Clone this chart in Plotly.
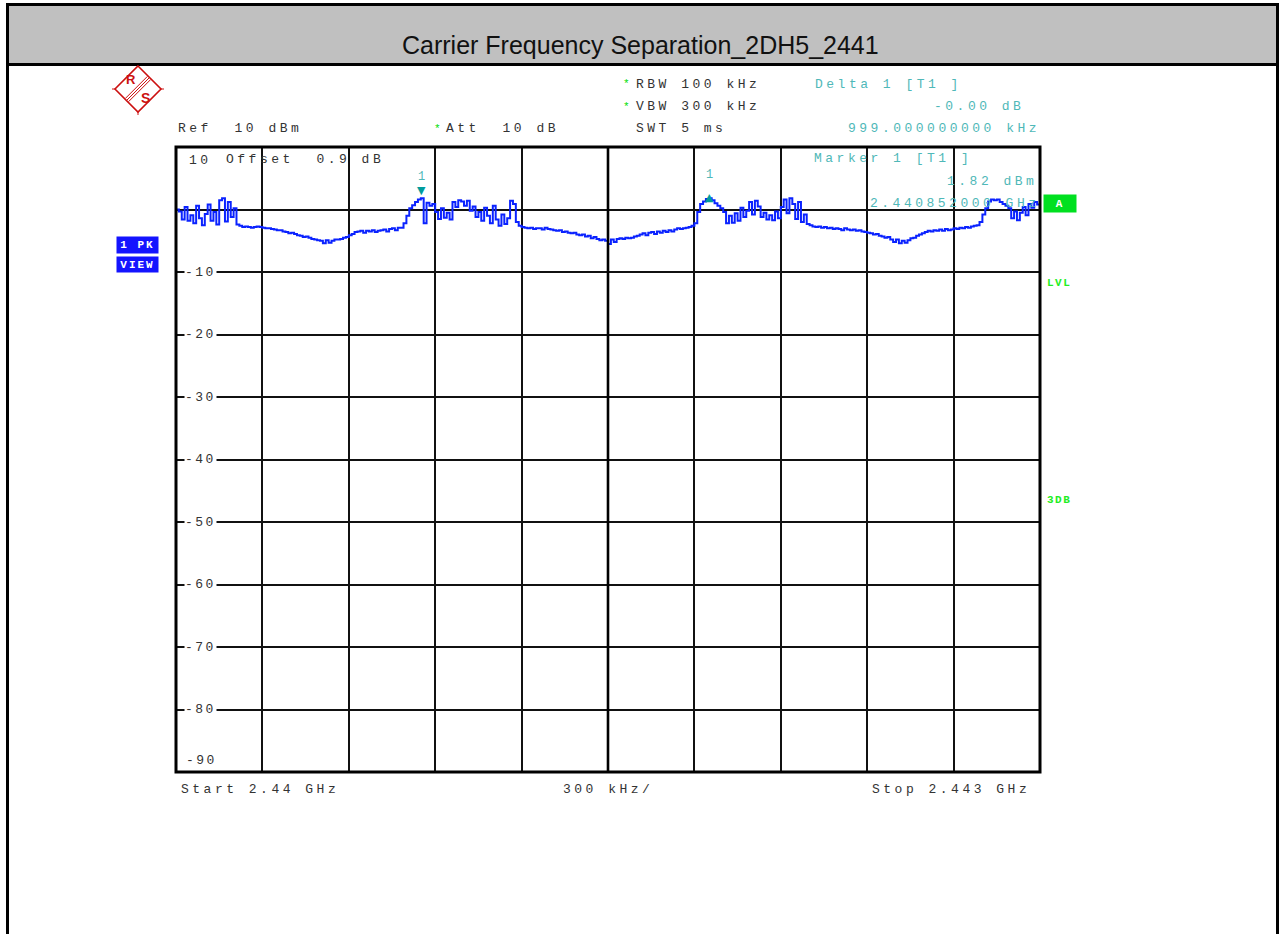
import numpy as np
import plotly.graph_objects as go

W, H = 1279, 934

# Sweep: 2.440 GHz .. 2.443 GHz, 301 points (10 kHz per point)
start_ghz = 2.440
stop_ghz = 2.443
n_points = 301
freq_ghz = np.linspace(start_ghz, stop_ghz, n_points)

# Trace 1 (max peak), dBm, in sweep order
level_seg1 = [0.0, -0.3, -1.6, 0.4, -1.8, -0.9, -2.2, 0.6, -1.4, -2.5, -0.7, 0.8,
              -1.8, -0.4, -2.4, 1.5, 1.8, -1.9, 1.2, -1.2, 0.2, -2.4, -2.6]
level_seg2 = [-2.8, -2.7, -2.8, -2.9, -2.8, -2.7, -2.8, -2.9,
              -3.0, -3.0, -3.1, -3.2, -3.3, -3.3, -3.5, -3.6, -3.8, -3.7,
              -3.9, -4.1, -4.2, -4.4, -4.3, -4.5, -4.7, -4.8, -4.9, -5.0,
              -5.4, -4.9, -5.3, -5.0, -4.8,
              -4.8, -4.7, -4.5, -4.4, -4.1, -3.9, -3.6, -3.5, -3.4, -3.7,
              -3.4, -3.5, -3.3, -3.6, -3.4, -3.3, -3.2, -3.5, -3.1, -3.0, -3.3, -2.9,
              -2.9, -2.2, -1.0, 0.2, 0.7, 1.2, 1.6, 1.82]
level_seg3 = [-2.2, 1.1, 0.6, 0.9, -0.4, -1.5, 0.2, -1.3, -0.5, -1.6, 1.2, 0.4,
              1.5, 1.3, 0.6, 1.4, -0.2, 0.5, -1.2, -0.4, -1.8, 0.3, -1.0, -2.2,
              0.6, -1.6, -2.6, -0.8, -2.3, -1.4, 1.4, 0.9, -2.0, -2.6]
level_seg4 = [-2.8, -2.9, -3.0, -2.9, -3.1, -3.0, -3.0, -3.2, -2.9, -3.1,
              -3.2, -3.3, -3.4, -3.3, -3.6, -3.5, -3.7, -3.8, -3.7, -4.0,
              -4.1, -4.0, -4.3, -4.2, -4.6, -4.4, -4.7, -4.9, -4.8, -5.0,
              -5.5, -4.8, -5.2, -4.7,
              -4.6, -4.7, -4.5, -4.6, -4.5, -4.3,
              -4.2, -4.0, -3.8, -4.1, -3.7, -3.6, -3.9, -3.5, -3.7, -3.4,
              -3.6, -3.3, -3.5, -3.2, -3.0, -3.1, -3.0, -2.9,
              -2.8, -2.6,
              -2.2, -0.4, 0.9, 1.3, 1.7, 1.82]
level_seg5 = [1.5, 1.0, 0.6, 0.2, -0.4, -2.2, -1.0, -2.1, -0.6, -1.8, 0.3, -1.2,
              -0.2, 1.2, -0.8, 1.4, 0.5, -1.2, -0.5, -1.6, -0.9, -1.7, -0.3, -1.4,
              0.4, 1.6, -0.6, 1.8, 0.9, -1.5, 1.2, -2.0, -0.8, -2.3, -2.5, -2.7]
level_seg6 = [-2.8, -2.7, -2.9, -2.8, -3.0, -2.9, -3.1, -3.0,
              -3.1, -3.3, -3.0, -3.2, -3.3, -3.2, -3.4, -3.3, -3.5, -3.6,
              -3.7, -3.8, -4.0, -3.9, -4.2, -4.3, -4.5, -4.4, -4.8, -5.2,
              -4.8, -5.4, -5.0, -5.3,
              -4.9, -4.6, -4.5, -4.2, -4.0, -3.8, -3.6, -3.4, -3.5, -3.3,
              -3.4, -3.2, -3.4, -3.1, -3.3, -3.2, -3.0, -3.1, -2.9, -3.0,
              -2.8, -2.9, -2.7, -2.6,
              -2.5, -2.0, -0.8, 0.2, 1.3, 1.6, 1.5, 1.6, 1.2, 0.9,
              0.6, 0.2, -1.4, -0.3, -1.7, -0.5, 0.4, -0.9, 0.9, 0.3, 1.2, 0.8, 1.5]
level_dbm = level_seg1 + level_seg2 + level_seg3 + level_seg4 + level_seg5 + level_seg6
assert len(level_dbm) == n_points

# Markers
marker1_ghz, marker1_dbm = 2.440852, 1.82
delta1_khz, delta1_db = 999.0, -0.00
delta1_ghz = marker1_ghz + delta1_khz / 1e6
delta1_dbm = marker1_dbm + delta1_db

ref_level = 10
y_bottom = -90
y_labels = [-10, -20, -30, -40, -50, -60, -70, -80]

# Screen geometry (pixels)
PL, PR, PT, PB = 176, 1040, 147, 772

def px(x):
    return x / W

def py(y):
    return 1 - y / H

MONO = "Courier New, Liberation Mono, monospace"
DARK = "#333333"
TEAL = "#4fb8b8"
TEAL_DARK = "#009c9c"
GREEN = "#00dd00"
BLUE = "#1414ff"
RED = "#cc1010"


def spaced(s, spacing=3.5):
    s = s.replace(" ", "\u00a0")
    return f'<span style="letter-spacing:{spacing}px">{s}</span>'


fig = go.Figure()
fig.add_trace(go.Scatter(
    x=freq_ghz, y=level_dbm, mode="lines", line_shape="hv",
    line=dict(color="#0a22ff", width=2), hoverinfo="skip", showlegend=False,
))

annotations = []


def txt(x, y, s, color=DARK, size=13, anchor="left", family=MONO, spacing=3.5, **kw):
    annotations.append(dict(
        x=px(x), y=py(y), xref="paper", yref="paper", showarrow=False,
        xanchor=anchor, yanchor="middle",
        text=spaced(s, spacing) if spacing else s,
        font=dict(family=family, size=size, color=color), **kw))


# Title band text
txt(640, 45, "Carrier Frequency Separation_2DH5_2441", color="#111111", size=25,
    anchor="center", family="Liberation Sans, Arial, sans-serif", spacing=0)

# Instrument settings header
txt(176, 129, "Ref  10 dBm")
txt(432, 129, "*", color=GREEN, size=11, spacing=0)
txt(444, 129, "Att  10 dB")
txt(621, 84, "*", color=GREEN, size=11, spacing=0)
txt(634, 84, "RBW 100 kHz")
txt(621, 107, "*", color=GREEN, size=11, spacing=0)
txt(634, 107, "VBW 300 kHz")
txt(634, 129, "SWT 5 ms")
txt(813, 84, "Delta 1 [T1 ]", color=TEAL)
txt(1026, 107, f"{delta1_db:.2f} dB", color=TEAL, anchor="right")
txt(846, 129, f"{delta1_khz:.9f} kHz", color=TEAL)

# Inside the graticule
txt(187, 161, str(ref_level))
txt(224, 160, "Offset  0.9 dB")
txt(812, 159, "Marker 1 [T1 ]", color=TEAL)
txt(1039, 181, f"{marker1_dbm:.2f} dBm", color=TEAL, anchor="right")
txt(868, 204, f"{marker1_ghz:.9f} GHz", color=TEAL)

# Y level labels sit on the grid lines with a white backing
for v in y_labels:
    yy = PT + (ref_level - v) / (ref_level - y_bottom) * (PB - PT)
    txt(184, yy, str(v), bgcolor="white", borderpad=0, spacing=2.5)
txt(184, 760, str(y_bottom), spacing=2.5)

# Frequency axis captions
txt(179, 789, "Start 2.44 GHz")
txt(561, 789, "300 kHz/")
txt(870, 789, "Stop 2.443 GHz")

# Status boxes
def box_label(x0, y0, x1, y1, s, bg):
    annotations.append(dict(
        x=px((x0 + x1) / 2), y=py((y0 + y1) / 2), xref="paper", yref="paper",
        showarrow=False, xanchor="center", yanchor="middle",
        width=x1 - x0, height=y1 - y0, bgcolor=bg, borderpad=0,
        text=f"<b>{spaced(s, 2.0)}</b>",
        font=dict(family=MONO, size=11, color="white")))

box_label(117, 237, 158, 253, "1 PK", BLUE)
box_label(117, 257, 158, 272, "VIEW", BLUE)
box_label(1044, 195, 1076, 212, "A", "#00e020")
txt(1045, 283, "<b>LVL</b>", color="#22ee22", size=11, spacing=1.5)
txt(1045, 500, "<b>3DB</b>", color="#22ee22", size=11, spacing=1.5)

# Marker symbols on the trace
annotations.append(dict(x=marker1_ghz, y=marker1_dbm, xref="x", yref="y", showarrow=False,
                        text="▼", yshift=8, font=dict(size=11, color=TEAL_DARK,
                                                      family="DejaVu Sans")))
annotations.append(dict(x=marker1_ghz, y=marker1_dbm, xref="x", yref="y", showarrow=False,
                        text="1", yshift=21, font=dict(size=12, color=TEAL, family=MONO)))
annotations.append(dict(x=delta1_ghz, y=delta1_dbm, xref="x", yref="y", showarrow=False,
                        text="▲", yshift=1, font=dict(size=11, color=TEAL_DARK,
                                                      family="DejaVu Sans")))
annotations.append(dict(x=delta1_ghz, y=delta1_dbm, xref="x", yref="y", showarrow=False,
                        text="1", yshift=23, font=dict(size=12, color=TEAL, family=MONO)))

# Logo letters
txt(131, 80, "<b>R</b>", color=RED, size=13, anchor="center",
    family="Liberation Sans, Arial", spacing=0)
txt(145, 98, "<b>S</b>", color=RED, size=14, anchor="center",
    family="Liberation Sans, Arial", spacing=0)

shapes = []

def pline(x0, y0, x1, y1, color="black", width=3):
    shapes.append(dict(type="line", xref="paper", yref="paper",
                       x0=px(x0), y0=py(y0), x1=px(x1), y1=py(y1),
                       line=dict(color=color, width=width)))

# Page frame and title band
shapes.append(dict(type="rect", xref="paper", yref="paper", x0=px(7.5), y0=py(4.5),
                   x1=px(1277.5), y1=py(64.5), fillcolor="#c0c0c0",
                   line=dict(color="black", width=3), layer="below"))
pline(7.5, 4.5, 7.5, H + 2)
pline(1277.5, 4.5, 1277.5, H + 2)

# Centre division line and graticule frame
shapes.append(dict(type="line", xref="x", yref="paper", x0=(start_ghz + stop_ghz) / 2,
                   x1=(start_ghz + stop_ghz) / 2, y0=py(PT), y1=py(PB),
                   line=dict(color="black", width=2.6)))
shapes.append(dict(type="rect", xref="paper", yref="paper", x0=px(PL), y0=py(PB),
                   x1=px(PR), y1=py(PT), line=dict(color="black", width=3)))

# Logo diamond with stripes
cx, cy, r = 138, 89, 23
diamond = (f"M {px(cx)} {py(cy - r)} L {px(cx + r)} {py(cy)} "
           f"L {px(cx)} {py(cy + r)} L {px(cx - r)} {py(cy)} Z")
shapes.append(dict(type="path", xref="paper", yref="paper", path=diamond,
                   line=dict(color=RED, width=1.6)))
for off in (-1.6, 0.0, 1.6):
    pline(127 + off, 100 + off, 149 + off, 78 + off, color=RED, width=1)
pline(112, 89, 115, 89, color=RED, width=1)
pline(161, 89, 164, 89, color=RED, width=1)
pline(138, 112, 138, 115, color=RED, width=1)

fig.update_layout(
    width=W, height=H, margin=dict(l=0, r=0, t=0, b=0),
    paper_bgcolor="white", plot_bgcolor="white",
    xaxis=dict(domain=[px(PL), px(PR)], range=[start_ghz, stop_ghz],
               tick0=start_ghz, dtick=(stop_ghz - start_ghz) / 10,
               showgrid=True, gridcolor="#111111", gridwidth=1.6,
               showticklabels=False, ticks="", zeroline=False, showline=False,
               fixedrange=True),
    yaxis=dict(domain=[py(PB), py(PT)], range=[y_bottom, ref_level],
               tick0=0, dtick=10, showgrid=True, gridcolor="#111111", gridwidth=1.6,
               showticklabels=False, ticks="", zeroline=False, showline=False,
               fixedrange=True),
    annotations=annotations, shapes=shapes, showlegend=False,
)

fig.write_html("out.html")
